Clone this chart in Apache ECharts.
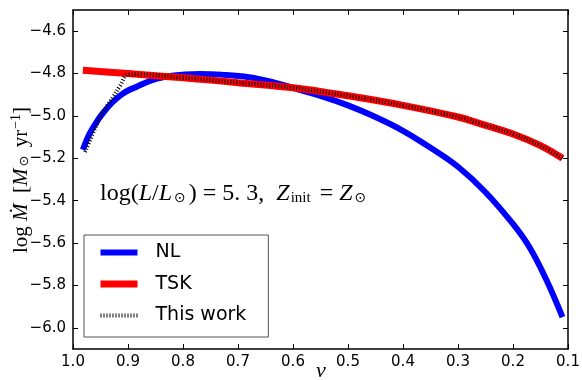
<!DOCTYPE html>
<html>
<head>
<meta charset="utf-8">
<script src="https://cdn.jsdelivr.net/npm/echarts@6/dist/echarts.min.js"></script>
<style>html,body{margin:0;padding:0;background:#fff}#c{width:582px;height:380px}</style>
</head>
<body>
<div id="c"></div>
<script>
// NL (blue)
const nlV = [0.982,0.97,0.955,0.945,0.93,0.915,0.9,0.884,0.865,0.847,0.82,0.8,0.77,0.73,0.68,0.63,0.6,0.55,0.5,0.45,0.4,0.35,0.3,0.25,0.2,0.17,0.14,0.11];
const nlY = [-5.16,-5.085,-5.02,-4.985,-4.94,-4.905,-4.88,-4.862,-4.84,-4.824,-4.81,-4.805,-4.802,-4.805,-4.817,-4.845,-4.868,-4.905,-4.95,-5.005,-5.07,-5.15,-5.24,-5.36,-5.51,-5.62,-5.77,-5.95];
// TSK (red)
const tskV = [0.982,0.9,0.8,0.75,0.7,0.6,0.5,0.4,0.3,0.26,0.2,0.15,0.11];
const tskY = [-4.784,-4.8,-4.82,-4.831,-4.843,-4.867,-4.905,-4.95,-5.005,-5.036,-5.085,-5.14,-5.2];
// This work (black dotted)
const twV = [0.978,0.96,0.945,0.927,0.915,0.9,0.88,0.8,0.75,0.7,0.6,0.5,0.4,0.3,0.26,0.2,0.15,0.11];
const twY = [-5.17,-5.06,-4.98,-4.91,-4.86,-4.805,-4.804,-4.82,-4.831,-4.843,-4.867,-4.905,-4.95,-5.005,-5.036,-5.085,-5.14,-5.2];
const yTicks = [-6.0,-5.8,-5.6,-5.4,-5.2,-5.0,-4.8,-4.6];

const zip = (a,b) => a.map((v,i)=>[v,b[i]]);
const chart = echarts.init(document.getElementById('c'));
const axLine = {show:true, lineStyle:{color:'#000', width:1.5}};
const tick = {show:true, inside:true, length:5, lineStyle:{color:'#000', width:1}};
const lblFont = {color:'#000', fontSize:15, fontFamily:'DejaVu Sans'};
const minus = s => String(s).replace('-', '\u2212');
chart.setOption({
  animation:false,
  grid:{left:73, right:14, top:10, bottom:31, containLabel:false, outerBoundsMode:'none'},
  legend:{
    left:84, top:235, orient:'vertical',
    itemWidth:37, itemHeight:20, itemGap:12.5,
    padding:[8,22,12,13],
    borderColor:'#555', borderWidth:1, borderRadius:0, backgroundColor:'#fff',
    itemStyle:{opacity:0},
    lineStyle:{width:'inherit'},
    textStyle:{fontSize:19, fontFamily:'DejaVu Sans', color:'#000', padding:[0,0,0,13]},
    data:['NL','TSK','This work']
  },
  xAxis:[{
    type:'value', min:0.1, max:1.0, interval:0.1, inverse:true,
    axisLine:axLine, axisTick:tick, splitLine:{show:false},
    axisLabel:{...lblFont, margin:6, formatter:v=>v.toFixed(1)}
  },{
    type:'value', min:0.1, max:1.0, interval:0.1, inverse:true, position:'top',
    axisLine:axLine, axisTick:tick, splitLine:{show:false}, axisLabel:{show:false}
  }],
  yAxis:[{
    type:'value', min:-6.1, max:-4.5,
    axisLine:axLine,
    axisTick:{...tick, customValues:yTicks},
    splitLine:{show:false},
    axisLabel:{...lblFont, margin:7, customValues:yTicks, formatter:v=>minus(v.toFixed(1))}
  },{
    type:'value', min:-6.1, max:-4.5, position:'right',
    axisLine:axLine, axisTick:{...tick, customValues:yTicks}, splitLine:{show:false},
    axisLabel:{show:false}
  }],
  series:[
    {name:'NL', type:'line', data:zip(nlV,nlY), smooth:0.4, symbol:'none', color:'#0000ff',
     lineStyle:{color:'#0000ff', width:6}, z:2},
    {name:'TSK', type:'line', data:zip(tskV,tskY), smooth:0.4, symbol:'none', color:'#ff0000',
     lineStyle:{color:'#ff0000', width:7}, z:3},
    {name:'This work', type:'line', data:zip(twV,twY), smooth:0.4, symbol:'none', color:'#000',
     lineStyle:{color:'#000', width:4, type:[1,2]}, z:4}
  ],
  graphic:[{
    type:'text', left:100, top:182,
    style:{
      text:'{r|log(}{i|L}{r|/}{i|L}{s|⊙}{r|) = 5. 3,  }{i|Z}{t|init}{r| = }{i|Z}{s|⊙}',
      rich:{
        r:{fontFamily:'Liberation Serif', fontSize:24, fill:'#000'},
        i:{fontFamily:'Liberation Serif', fontStyle:'italic', fontSize:24, fill:'#000'},
        s:{fontFamily:'DejaVu Sans', fontSize:14, fill:'#000', padding:[9,3,0,2]},
        t:{fontFamily:'Liberation Serif', fontSize:15, fill:'#000', padding:[9,3,0,1]}
      }
    }
  },{
    type:'text', left:316, top:360,
    style:{text:'v', fontFamily:'Liberation Serif', fontStyle:'italic', fontSize:22, fill:'#000'}
  },{
    type:'text', x:21, y:180, rotation:Math.PI/2, originX:0, originY:0,
    style:{
      text:'{r|log }{i|Ṁ}{r|  [}{i|M}{s|⊙}{r| yr}{p|−1}{r|]}',
      align:'center', verticalAlign:'middle',
      rich:{
        r:{fontFamily:'Liberation Serif', fontSize:21, fill:'#000'},
        i:{fontFamily:'Liberation Serif', fontStyle:'italic', fontSize:21, fill:'#000'},
        s:{fontFamily:'DejaVu Sans', fontSize:13, fill:'#000', padding:[8,3,0,2]},
        p:{fontFamily:'Liberation Serif', fontSize:14, fill:'#000', padding:[0,0,9,1]}
      }
    }
  }]
});
</script>
</body>
</html>
